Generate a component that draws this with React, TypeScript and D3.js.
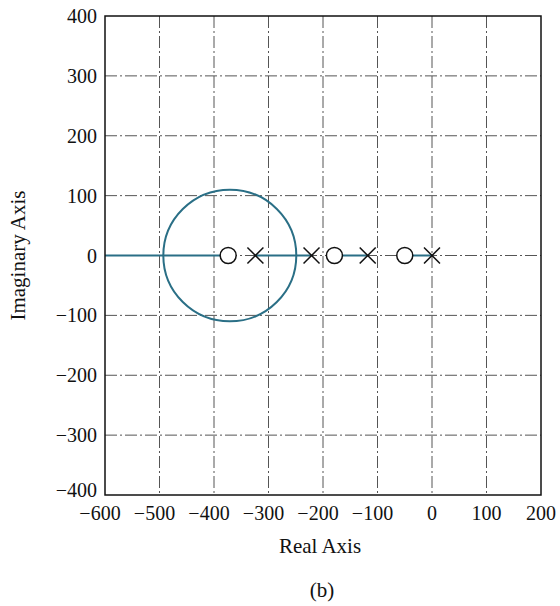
import React from "react";
import * as d3 from "d3";

const xTicks = [-600, -500, -400, -300, -200, -100, 0, 100, 200];
const yTicks = [-400, -300, -200, -100, 0, 100, 200, 300, 400];
const poles = [-324, -221, -118, 0];
const zeros = [-374, -179, -50];
// real-axis locus segments [from, to]
const segStart = [-600, -324, -179, -50];
const segEnd = [-374, -221, -118, 0];
// circular branch: centre on real axis, half-width (real units), half-height (imag units)
const circleCenter = [-371, 0];
const circleRadius = [122, 110];

const W = 560;
const H = 606;
const left = 105;
const right = 541;
const top = 16;
const bottom = 495;
const FONT = "'Liberation Serif', 'Times New Roman', serif";
const LOCUS = "#2a6f86";

export default function App() {
  const x = d3.scaleLinear().domain([-600, 200]).range([left, right]);
  const y = d3.scaleLinear().domain([-400, 400]).range([bottom, top]);
  const line = d3.line<[number, number]>().x((d) => x(d[0])).y((d) => y(d[1]));
  const m = 8;
  return (
    <svg width={W} height={H} style={{ position: "absolute", left: 0, top: 0, background: "#fff" }}>
      <rect x={0} y={0} width={W} height={H} fill="#fff" />
      {/* grid */}
      {xTicks.slice(1, -1).map((t) => (
        <line key={"gx" + t} x1={x(t)} x2={x(t)} y1={top} y2={bottom} stroke="#555" strokeWidth={1} strokeDasharray="12,3,2,3" />
      ))}
      {yTicks.slice(1, -1).map((t) => (
        <line key={"gy" + t} x1={left} x2={right} y1={y(t)} y2={y(t)} stroke="#555" strokeWidth={1} strokeDasharray="12,3,2,3" />
      ))}
      {/* locus */}
      {segStart.map((s, i) => (
        <path key={"seg" + i} d={line([[s, 0], [segEnd[i], 0]]) || ""} stroke={LOCUS} strokeWidth={2} fill="none" />
      ))}
      <ellipse
        cx={x(circleCenter[0])}
        cy={y(circleCenter[1])}
        rx={x(circleCenter[0] + circleRadius[0]) - x(circleCenter[0])}
        ry={y(0) - y(circleRadius[1])}
        stroke={LOCUS}
        strokeWidth={2}
        fill="none"
      />
      {/* zeros */}
      {zeros.map((z) => (
        <circle key={"z" + z} cx={x(z)} cy={y(0)} r={m} fill="#fff" stroke="#111" strokeWidth={1.5} />
      ))}
      {/* poles */}
      {poles.map((p) => (
        <g key={"p" + p} stroke="#111" strokeWidth={1.5}>
          <line x1={x(p) - m} x2={x(p) + m} y1={y(0) - m} y2={y(0) + m} />
          <line x1={x(p) - m} x2={x(p) + m} y1={y(0) + m} y2={y(0) - m} />
        </g>
      ))}
      {/* frame */}
      <rect x={left} y={top} width={right - left} height={bottom - top} fill="none" stroke="#111" strokeWidth={1.5} />
      {/* tick labels */}
      {xTicks.map((t) => (
        <text key={"tx" + t} x={x(t) - (t < 0 ? 5 : 0)} y={520} textAnchor="middle" fontFamily={FONT} fontSize={20} fill="#111">
          {t < 0 ? "\u2212" + Math.abs(t) : String(t)}
        </text>
      ))}
      {yTicks.map((t) => (
        <text key={"ty" + t} x={97} y={Math.min(y(t) + 7, bottom + 2)} textAnchor="end" fontFamily={FONT} fontSize={20} fill="#111">
          {t < 0 ? "\u2212" + Math.abs(t) : String(t)}
        </text>
      ))}
      {/* axis titles */}
      <text x={320} y={553} textAnchor="middle" fontFamily={FONT} fontSize={21} fill="#111">Real Axis</text>
      <text transform={`translate(25,${y(0)}) rotate(-90)`} textAnchor="middle" fontFamily={FONT} fontSize={21} fill="#111">Imaginary Axis</text>
      <text x={322} y={597} textAnchor="middle" fontFamily={FONT} fontSize={21} fill="#111">(b)</text>
    </svg>
  );
}
